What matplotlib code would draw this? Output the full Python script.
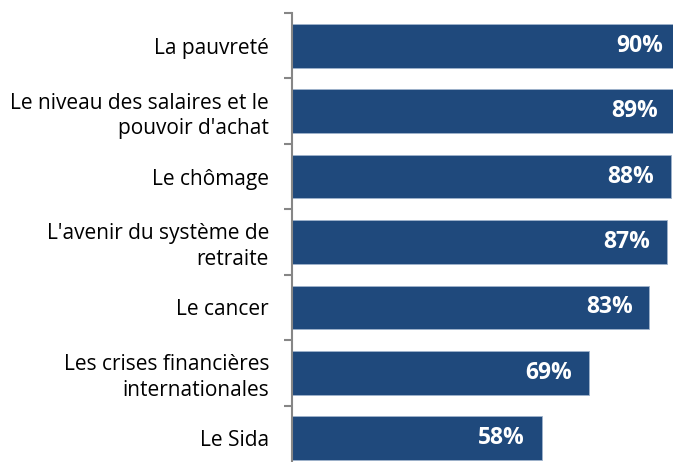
import matplotlib.pyplot as plt

categories = ["La pauvreté",
              "Le niveau des salaires et le\npouvoir d'achat",
              "Le chômage",
              "L'avenir du système de\nretraite",
              "Le cancer",
              "Les crises financières\ninternationales",
              "Le Sida"]
values = [90, 89, 88, 87, 83, 69, 58]
labels = ["90%", "89%", "88%", "87%", "83%", "69%", "58%"]

plt.rcParams['font.family'] = ['Open Sans', 'DejaVu Sans']

fig = plt.figure(figsize=(6.73, 4.62), dpi=100)
# axis starts at x=292px, top at 13px, bottom runs past the image edge
ax = fig.add_axes([292 / 673, -9 / 462, 381 / 673, 458 / 462])

pos = list(range(len(categories)))
ax.barh(pos, values, height=0.67, color='#1F497C', edgecolor='#9FB3CC', linewidth=0.6)

for p, v, lab in zip(pos, values, labels):
    ax.annotate(lab, (v, p), xytext=(-12, 0), textcoords='offset points',
                ha='right', va='center', color='white', fontsize=16.5,
                fontweight='bold', annotation_clip=False)

ax.set_xlim(0, 381 / 4.305)
ax.set_ylim(6.5, -0.5)

ax.set_yticks(pos)
ax.set_yticklabels(categories, fontsize=15, linespacing=1.28, ha='right')
ax.tick_params(axis='y', which='major', length=0, pad=16.5)
ax.set_yticks([i - 0.5 for i in range(len(categories) + 1)], minor=True)
ax.tick_params(axis='y', which='minor', length=6, width=1.5, color='#868686')
ax.set_xticks([])

for s in ['top', 'right', 'bottom']:
    ax.spines[s].set_visible(False)
ax.spines['left'].set_color('#868686')
ax.spines['left'].set_linewidth(1.5)

fig.savefig('out.png', dpi=100)
